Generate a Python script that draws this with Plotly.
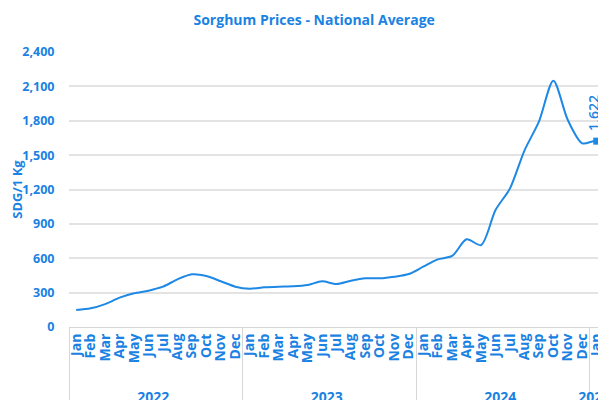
import plotly.graph_objects as go

years = ["2022"] * 12 + ["2023"] * 12 + ["2024"] * 12 + ["2025"] * 2
month_names = ["Jan", "Feb", "Mar", "Apr", "May", "Jun",
               "Jul", "Aug", "Sep", "Oct", "Nov", "Dec"]
months = month_names * 3 + ["Jan", "Feb"]

prices = [
    148, 163, 200, 256, 294, 317, 352, 416, 460, 445, 399, 352,   # 2022
    334, 346, 352, 355, 366, 399, 375, 404, 425, 425, 439, 462,   # 2023
    526, 590, 620, 765, 715, 1021, 1210, 1540, 1792, 2150, 1806, 1603,  # 2024
    1622, 1470,                                                   # 2025
]

label_index = 36  # Jan 2025, the labelled point
y_ticks = list(range(0, 2401, 300))

BLUE = "#1E88E5"
TEXT = "#1a82e2"
GRID = "#e3e3e3"
FONT = "Open Sans"

# leading no-break spaces sit below each rotated month name, which gives the
# year row the same distance from the axis as in the original chart
PAD = "\u00a0\u00a0\u00a0"
month_labels = [PAD + m for m in months]

fig = go.Figure()
fig.add_trace(go.Scatter(
    x=[years, month_labels], y=prices, mode="lines",
    line=dict(color=BLUE, width=2, shape="spline", smoothing=0.8),
    hoverinfo="skip", showlegend=False,
))
fig.add_trace(go.Scatter(
    x=[[years[label_index]], [month_labels[label_index]]], y=[prices[label_index]],
    mode="markers", marker=dict(symbol="square", size=7, color=BLUE),
    showlegend=False, hoverinfo="skip", cliponaxis=False,
))
fig.add_annotation(
    x=label_index, y=prices[label_index], xref="x", yref="y",
    text=f"{prices[label_index]:,}", textangle=-90, showarrow=False,
    xanchor="center", yanchor="bottom", yshift=8, xshift=-4,
    font=dict(family=FONT, size=14, color=TEXT, weight=600),
)

# the page has an 8px body margin, so the figure is 8px smaller than the window
fig.update_layout(
    width=598, height=392,
    margin=dict(l=61, r=0, t=44, b=73, autoexpand=False),
    paper_bgcolor="white", plot_bgcolor="white",
    font=dict(family=FONT, color=TEXT),
    title=dict(text="<b>Sorghum Prices - National Average</b>",
               x=0.512, xref="container", xanchor="center",
               y=0.969, yref="container", yanchor="middle", pad=dict(t=0, b=0),
               font=dict(family=FONT, size=14, color=TEXT)),
)
fig.update_xaxes(
    type="multicategory", range=[-0.5, 36.64], automargin=False,
    tickmode="linear", tick0=0, dtick=1,
    showgrid=False, showline=True, linecolor="#d6d6d6", linewidth=1,
    ticks="outside", ticklen=9, tickcolor="rgba(0,0,0,0)", tickangle=-90,
    tickfont=dict(family=FONT, size=14, color=TEXT, weight="bold"),
    showdividers=True, dividercolor="#d6d6d6", dividerwidth=1,
    zeroline=False,
)
fig.update_yaxes(
    range=[0, 2400], tickvals=y_ticks, tickformat=",", automargin=False,
    showgrid=True, gridcolor=GRID, gridwidth=1.5,
    zeroline=False, showline=False,
    ticks="outside", ticklen=11, tickcolor="rgba(0,0,0,0)",
    tickfont=dict(family=FONT, size=12.5, color=TEXT, weight="bold"),
    title=dict(text="<b>SDG/1 Kg</b>", standoff=4,
               font=dict(family=FONT, size=13, color=TEXT)),
)

fig.write_html("out.html")
